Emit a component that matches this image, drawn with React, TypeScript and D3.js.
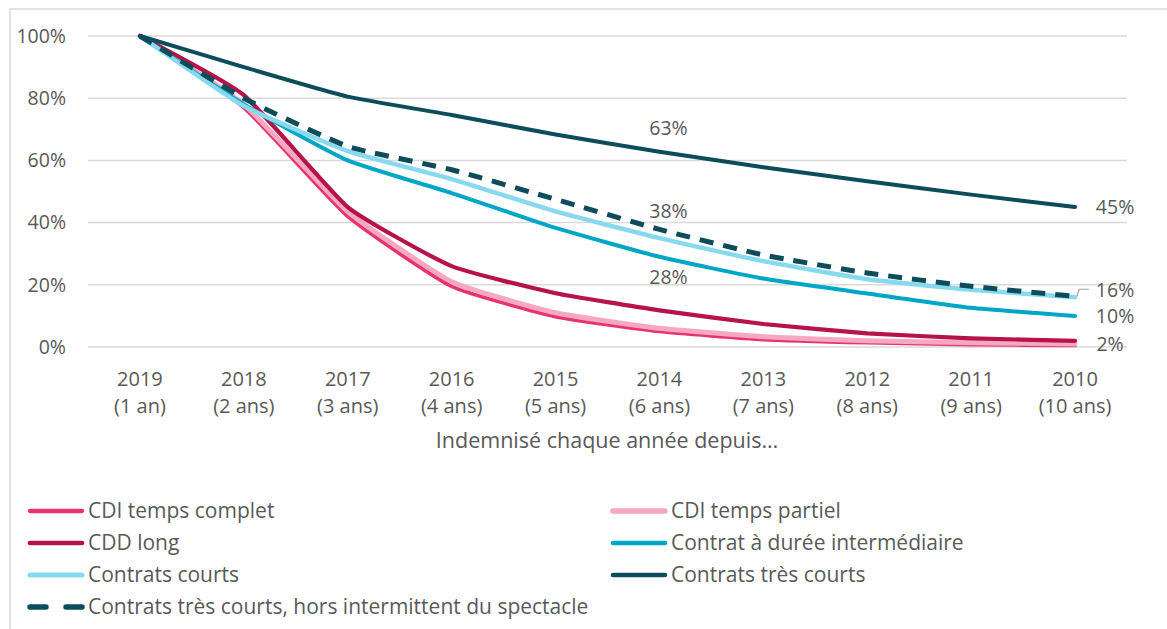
import React, { useEffect, useRef } from 'react';
import * as d3 from 'd3';

const years = ['2019', '2018', '2017', '2016', '2015', '2014', '2013', '2012', '2011', '2010'];
const durations = ['(1 an)', '(2 ans)', '(3 ans)', '(4 ans)', '(5 ans)', '(6 ans)', '(7 ans)', '(8 ans)', '(9 ans)', '(10 ans)'];
const yTicks = [0, 20, 40, 60, 80, 100];

const cdiComplet = [100, 77, 42, 19.5, 9.8, 5, 2.4, 1.4, 0.8, 0.5];
const cdiPartiel = [100, 78, 43.5, 21, 11, 6, 3.3, 2, 1.4, 1];
const cddLong = [100, 81, 45, 26, 17.3, 11.8, 7.4, 4.4, 2.8, 2];
const intermediaire = [100, 78, 60, 49.5, 38.3, 29, 22, 17.2, 12.6, 10];
const courts = [100, 77.5, 63, 54, 43.6, 35, 27.6, 21.8, 18.4, 16];
const tresCourts = [100, 90, 80.5, 74.6, 68.3, 62.8, 57.8, 53.3, 49, 45];
const horsIntermittent = [100, 80, 64.5, 57, 47.5, 37.8, 29.6, 23.8, 19.5, 16.3];

const series = [
  { name: 'CDI temps complet', values: cdiComplet, color: '#e8336d', width: 3.8, dash: '' },
  { name: 'CDI temps partiel', values: cdiPartiel, color: '#f4a8c1', width: 5, dash: '' },
  { name: 'CDD long', values: cddLong, color: '#b5134a', width: 4.2, dash: '' },
  { name: 'Contrat à durée intermédiaire', values: intermediaire, color: '#00a6c6', width: 4, dash: '' },
  { name: 'Contrats courts', values: courts, color: '#86d9ee', width: 4.5, dash: '' },
  { name: 'Contrats très courts', values: tresCourts, color: '#0d4c5b', width: 4, dash: '' },
  { name: 'Contrats très courts, hors intermittent du spectacle', values: horsIntermittent, color: '#0d4c5b', width: 5, dash: '14,10' },
];

// value labels: series index, category index, text, offset
const labels = [
  { s: 5, i: 5, text: '63%', dx: 9, dy: -24 },
  { s: 6, i: 5, text: '38%', dx: 9, dy: -18 },
  { s: 3, i: 5, text: '28%', dx: 9, dy: 20 },
  { s: 5, i: 9, text: '45%', dx: 40, dy: 0 },
  { s: 4, i: 9, text: '16%', dx: 40, dy: -7 },
  { s: 3, i: 9, text: '10%', dx: 40, dy: 0 },
  { s: 2, i: 9, text: '2%', dx: 35, dy: 3 },
];

const font = '"Open Sans", Lato, sans-serif';
const textColor = '#595959';

export default function App() {
  const ref = useRef<SVGSVGElement>(null);

  useEffect(() => {
    const svg = d3.select(ref.current);
    svg.selectAll('*').remove();

    svg.append('rect')
      .attr('x', 10).attr('y', 9).attr('width', 1170).attr('height', 640)
      .attr('fill', 'white').attr('stroke', '#d9d9d9').attr('stroke-width', 1.5);

    const x = d3.scaleBand().domain(years).range([88, 1127]);
    const y = d3.scaleLinear().domain([0, 100]).range([347, 36]);
    const cx = (i: number) => (x(years[i]) as number) + x.bandwidth() / 2;

    // gridlines
    svg.append('g').selectAll('line').data(yTicks).enter().append('line')
      .attr('x1', 88).attr('x2', 1127)
      .attr('y1', d => y(d)).attr('y2', d => y(d))
      .attr('stroke', '#d9d9d9').attr('stroke-width', 1.5);

    // y tick labels
    svg.append('g').selectAll('text').data(yTicks).enter().append('text')
      .attr('x', 66).attr('y', d => y(d)).attr('dy', '0.35em')
      .attr('text-anchor', 'end')
      .style('font-family', font).style('font-size', '19.5px').attr('fill', textColor)
      .text(d => `${d}%`);

    // x tick labels
    const xt = svg.append('g').selectAll('g').data(years).enter().append('g');
    xt.append('text')
      .attr('x', (d, i) => cx(i)).attr('y', 386)
      .attr('text-anchor', 'middle')
      .style('font-family', font).style('font-size', '20px').attr('fill', textColor)
      .text(d => d);
    xt.append('text')
      .attr('x', (d, i) => cx(i)).attr('y', 413)
      .attr('text-anchor', 'middle')
      .style('font-family', font).style('font-size', '20px').attr('fill', textColor)
      .text((d, i) => durations[i]);

    svg.append('text')
      .attr('x', 607).attr('y', 448).attr('text-anchor', 'middle')
      .style('font-family', font).style('font-size', '21.5px').attr('fill', textColor)
      .text('Indemnisé chaque année depuis…');

    const line = d3.line<number>()
      .x((d, i) => cx(i))
      .y(d => y(d))
      .curve(d3.curveCardinal.tension(0.55));

    svg.append('g').selectAll('path').data(series).enter().append('path')
      .attr('d', d => line(d.values))
      .attr('fill', 'none')
      .attr('stroke', d => d.color)
      .attr('stroke-width', d => d.width)
      .attr('stroke-dasharray', d => d.dash || null)
      .attr('stroke-linecap', d => d.dash ? 'butt' : 'round')
      .attr('stroke-linejoin', 'round');

    // leader line for 16%
    const lx = cx(9), ly = y(courts[9]);
    svg.append('path')
      .attr('d', `M${lx + 2},${ly - 1} L${lx + 4},${ly - 8} L${lx + 14},${ly - 8}`)
      .attr('fill', 'none').attr('stroke', '#a6a6a6').attr('stroke-width', 1.2);

    svg.append('g').selectAll('text').data(labels).enter().append('text')
      .attr('x', d => cx(d.i) + d.dx)
      .attr('y', d => y(series[d.s].values[d.i]) + d.dy)
      .attr('dy', '0.35em')
      .attr('text-anchor', 'middle')
      .style('font-family', font).style('font-size', '19.5px').attr('fill', textColor)
      .text(d => d.text);

    // legend
    const legendOrder = [0, 1, 2, 3, 4, 5, 6];
    const leg = svg.append('g').selectAll('g').data(legendOrder).enter().append('g')
      .attr('transform', (d, k) => {
        const col = k === 6 ? 0 : k % 2;
        const row = Math.floor(k / 2);
        return `translate(${col === 0 ? 30 : 613},${511 + row * 32})`;
      });
    leg.append('line')
      .attr('x1', 0).attr('x2', 52).attr('y1', 0).attr('y2', 0)
      .attr('stroke', d => series[d].color)
      .attr('stroke-width', d => series[d].width + 0.5)
      .attr('stroke-linecap', 'round')
      .attr('stroke-dasharray', d => series[d].dash ? '16,20' : null);
    leg.append('text')
      .attr('x', 58).attr('y', 0).attr('dy', '0.35em')
      .style('font-family', font).style('font-size', '21px').attr('fill', textColor)
      .text(d => series[d].name);
  }, []);

  return (
    <svg ref={ref} width={1167} height={629}
      style={{ position: 'absolute', left: 0, top: 0, background: 'white' }} />
  );
}
